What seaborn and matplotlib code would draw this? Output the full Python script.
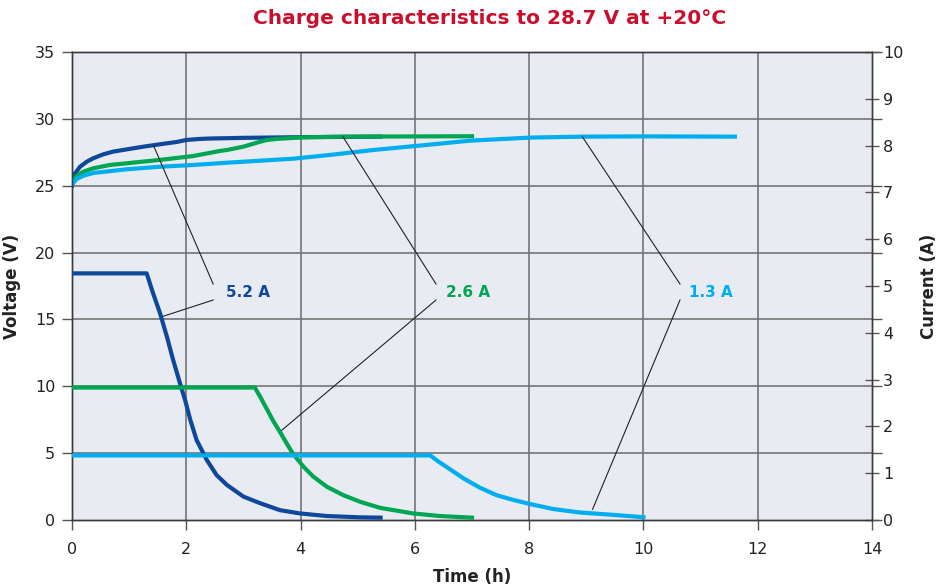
import numpy as np
import pandas as pd
import matplotlib
matplotlib.use("Agg")
import matplotlib.pyplot as plt
import seaborn as sns

# ===========================
# Data
# ===========================
# voltage curves (time in h, volts)
v52_t = [0, 0.05, 0.14, 0.26, 0.37, 0.55, 0.72, 0.96, 1.25, 1.54, 1.83, 2.0, 2.24, 2.42, 3.0, 3.99, 5.4]
v52_v = [25.0, 25.9, 26.42, 26.8, 27.05, 27.35, 27.55, 27.72, 27.92, 28.1, 28.27, 28.42, 28.5, 28.53, 28.58, 28.63, 28.67]

v26_t = [0, 0.08, 0.2, 0.37, 0.66, 0.96, 1.54, 2.12, 2.59, 2.71, 3.0, 3.29, 3.41, 3.58, 4.05, 4.75, 7.0]
v26_v = [25.3, 25.73, 26.05, 26.3, 26.55, 26.68, 26.93, 27.22, 27.6, 27.67, 27.92, 28.29, 28.42, 28.5, 28.62, 28.67, 28.7]

v13_t = [0, 0.08, 0.2, 0.37, 0.96, 1.54, 2.12, 2.71, 3.29, 3.87, 4.51, 5.27, 6.01, 6.97, 8.02, 8.95, 10.0, 11.6]
v13_v = [25.1, 25.5, 25.75, 25.95, 26.23, 26.42, 26.55, 26.72, 26.87, 27.02, 27.3, 27.67, 27.97, 28.37, 28.6, 28.67, 28.69, 28.67]

# current curves (time in h, amps)
i52_t = [0, 1.307, 1.42, 1.54, 1.66, 1.77, 1.89, 1.98, 2.07, 2.18, 2.36, 2.53, 2.71, 3.0,
         3.29, 3.64, 3.99, 4.46, 5.04, 5.4]
i52_a = [5.27, 5.27, 4.84, 4.42, 3.92, 3.42, 2.92, 2.56, 2.14, 1.71, 1.28, 0.96, 0.75, 0.5,
         0.36, 0.21, 0.14, 0.085, 0.057, 0.05]

i26_t = [0, 3.2, 3.29, 3.41, 3.52, 3.64, 3.76, 3.87, 4.05, 4.22, 4.46, 4.75, 5.04, 5.39,
         5.68, 5.97, 6.44, 7.0]
i26_a = [2.83, 2.83, 2.64, 2.37, 2.12, 1.88, 1.63, 1.41, 1.14, 0.93, 0.71, 0.53, 0.39, 0.26,
         0.2, 0.14, 0.085, 0.05]

i13_t = [0, 6.27, 6.41, 6.56, 6.85, 7.14, 7.43, 7.72, 8.02, 8.42, 8.89, 9.47, 10.0]
i13_a = [1.38, 1.38, 1.25, 1.13, 0.89, 0.69, 0.53, 0.43, 0.34, 0.235, 0.16, 0.11, 0.06]

series_names = ["5.2 A", "2.6 A", "1.3 A"]
series_colors = ["#0e489b", "#00a651", "#00aeef"]

# label anchors (t, V) and leader line ends on the voltage / current curves
label_t = [3.08, 6.93, 11.18]
label_v = [17.05, 17.05, 17.05]
lead_start_t = [2.47, 6.37, 10.64]
lead_up_end = [(1.43, 27.97), (4.74, 28.67), (8.93, 28.67)]
lead_dn_end = [(1.57, 15.2), (3.64, 6.6), (9.11, 0.8)]

volt_ticks = list(range(0, 36, 5))
curr_ticks = list(range(0, 11))
time_ticks = list(range(0, 15, 2))

# ===========================
# Build long tables for seaborn
# ===========================
volt_df = pd.concat([
    pd.DataFrame({"t": t, "v": v, "s": n})
    for t, v, n in zip([v52_t, v26_t, v13_t], [v52_v, v26_v, v13_v], series_names)
])
curr_df = pd.concat([
    pd.DataFrame({"t": t, "a": a, "s": n})
    for t, a, n in zip([i52_t, i26_t, i13_t], [i52_a, i26_a, i13_a], series_names)
])
palette = dict(zip(series_names, series_colors))

# ===========================
# Plot
# ===========================
plt.rcParams["font.family"] = ["DejaVu Sans"]
fig = plt.figure(figsize=(9.43, 5.85), dpi=100)
ax = fig.add_axes([72 / 943, 65 / 585, 800 / 943, 468 / 585])
ax.set_facecolor("#e8ebf1")

grid_c = "#6a6a6a"
for x in time_ticks[1:-1]:
    ax.axvline(x, color=grid_c, lw=1.1, zorder=1)
for y in volt_ticks[1:-1]:
    ax.axhline(y, color=grid_c, lw=1.1, zorder=1)

ax2 = ax.twinx()

sns.lineplot(data=volt_df, x="t", y="v", hue="s", palette=palette, ax=ax,
             lw=3, legend=False, sort=False, zorder=3)
sns.lineplot(data=curr_df, x="t", y="a", hue="s", palette=palette, ax=ax2,
             lw=3, legend=False, sort=False, zorder=3)
for line in ax.get_lines() + ax2.get_lines():
    line.set_solid_joinstyle("round")

ax.set_xlim(0, 14)
ax.set_ylim(0, 35)
ax2.set_ylim(0, 10)
ax.set_xticks(time_ticks)
ax.set_yticks(volt_ticks)
ax2.set_yticks(curr_ticks)

# leader lines and labels
for i, name in enumerate(series_names):
    ax.plot([lead_start_t[i], lead_up_end[i][0]], [label_v[i] + 0.6, lead_up_end[i][1]],
            color="#222222", lw=0.8, zorder=4)
    ax.plot([lead_start_t[i], lead_dn_end[i][0]], [label_v[i] - 0.6, lead_dn_end[i][1]],
            color="#222222", lw=0.8, zorder=4)
    ax.text(label_t[i], label_v[i], name, color=series_colors[i], fontsize=11,
            fontweight="bold", ha="center", va="center", zorder=5)

for a in (ax, ax2):
    for side in ("left", "right", "top", "bottom"):
        a.spines[side].set_color("#3a3a3a")
        a.spines[side].set_linewidth(1.0)
ax2.patch.set_visible(False)

ax.tick_params(axis="both", colors="#555555", labelcolor="#222222", labelsize=11.5,
               length=7, width=1.0, direction="out", pad=5)
ax.tick_params(axis="y", right=True, labelright=False)
ax.tick_params(axis="x", pad=9)
ax2.tick_params(axis="y", colors="#555555", labelcolor="#222222", labelsize=11.5,
                length=10, width=1.0, direction="inout", pad=3)

ax.set_xlabel("Time (h)", fontsize=12, fontweight="bold", color="#222222", labelpad=8)
ax.set_ylabel("Voltage (V)", fontsize=12, fontweight="bold", color="#222222", labelpad=10)
ax2.set_ylabel("Current (A)", fontsize=12, fontweight="bold", color="#222222", labelpad=12)

fig.text(490 / 943, 1 - 19 / 585, "Charge characteristics to 28.7 V at +20°C",
         color="#c8102e", fontsize=14.5, fontweight="bold", ha="center", va="center")

fig.savefig("out.png", dpi=100, facecolor="white")
plt.close(fig)
